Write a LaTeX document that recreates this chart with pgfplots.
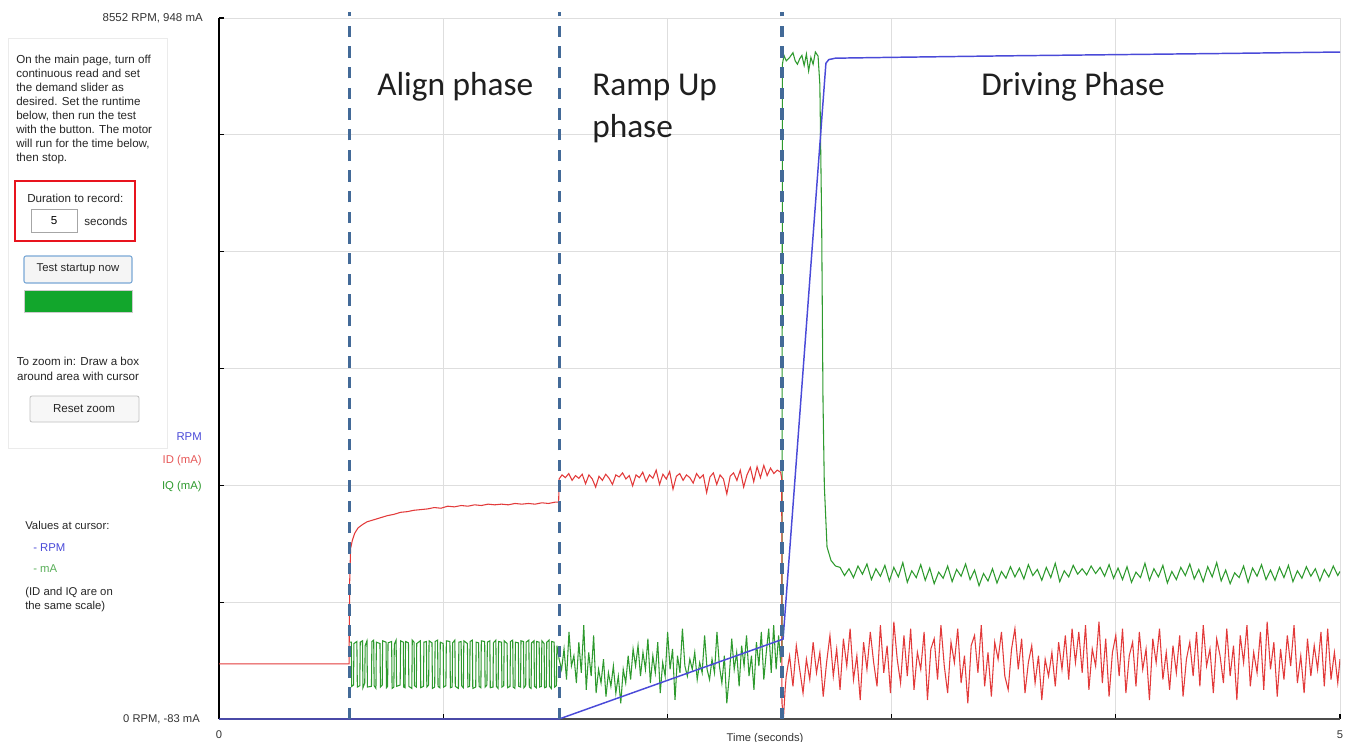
\documentclass[border=0pt]{standalone}
\usepackage{fontspec}
\setmainfont{Liberation Sans}
\newfontfamily\calib{Carlito}
\usepackage{pgfplots}
\pgfplotsset{compat=1.18}
\definecolor{cRPM}{HTML}{4A4AD8}
\definecolor{cID}{HTML}{E23A3A}
\definecolor{cIQ}{HTML}{2E9A2E}
\definecolor{cDash}{HTML}{436A98}
\definecolor{cGrid}{HTML}{DEDEDE}
\definecolor{cBar}{HTML}{12A62C}
\definecolor{cBtn}{HTML}{7AA8D6}
\begin{document}
\begin{tikzpicture}
\begin{scope}[x=0.75pt,y=-0.75pt]
\useasboundingbox (0,0) rectangle (1353,742);
% side panel
\draw[draw=black!8, fill=white, line width=0.6pt] (8,38) rectangle (167,448);
\node[anchor=north west, align=left, font=\fontsize{8.7}{10.45}\selectfont, text=black!85, inner sep=0pt] at (16,55)
 {On the main page, turn off\\continuous read and set\\the demand slider as\\desired. Set the runtime\\below, then run the test\\with the button. The motor\\will run for the time below,\\then stop.};
\draw[draw={rgb,255:red,232;green,20;blue,30}, line width=2pt] (15,181) rectangle (135,241);
\node[anchor=west, font=\fontsize{8.7}{10}\selectfont, text=black!85, inner sep=0pt] at (27,198) {Duration to record:};
\draw[draw=black!35, fill=white, line width=0.6pt] (31,209) rectangle (77,232);
\node[font=\fontsize{8.7}{10}\selectfont, inner sep=0pt] at (54,221) {5};
\node[anchor=west, font=\fontsize{8.7}{10}\selectfont, text=black!85, inner sep=0pt] at (84,221) {seconds};
\draw[draw=cBtn, fill=black!4, rounded corners=1.5pt, line width=0.8pt] (24,256) rectangle (132,283);
\node[font=\fontsize{8.5}{10}\selectfont, text=black!85, inner sep=0pt] at (78,269) {Test startup now};
\draw[draw=black!20, fill=cBar, line width=0.5pt] (24,290) rectangle (132,312);
\node[align=center, font=\fontsize{8.7}{11}\selectfont, text=black!85, inner sep=0pt] at (78,369) {To zoom in: Draw a box\\around area with cursor};
\draw[draw=black!25, fill=black!3, rounded corners=1.5pt, line width=0.6pt] (30,396) rectangle (139,422);
\node[font=\fontsize{8.7}{10}\selectfont, text=black!85, inner sep=0pt] at (84,409) {Reset zoom};
% series labels
\node[anchor=east, font=\fontsize{8.5}{10}\selectfont, text=cRPM, inner sep=0pt] at (202,437) {RPM};
\node[anchor=east, font=\fontsize{8.5}{10}\selectfont, text=cID!85, inner sep=0pt] at (202,461) {ID (mA)};
\node[anchor=east, font=\fontsize{8.5}{10}\selectfont, text=cIQ, inner sep=0pt] at (202,487) {IQ (mA)};
% cursor values
\node[anchor=west, font=\fontsize{8.5}{10}\selectfont, text=black!85, inner sep=0pt] at (25,525) {Values at cursor:};
\node[anchor=west, font=\fontsize{8.5}{10}\selectfont, text=cRPM, inner sep=0pt] at (33,548) {- RPM};
\node[anchor=west, font=\fontsize{8.5}{10}\selectfont, text=cIQ!80, inner sep=0pt] at (33,569) {- mA};
\node[anchor=north west, align=left, font=\fontsize{8.5}{10.4}\selectfont, text=black!85, inner sep=0pt] at (25,587) {(ID and IQ are on\\the same scale)};
% axis end labels
\node[anchor=east, font=\fontsize{8.6}{10}\selectfont, text=black!80, inner sep=0pt] at (203,18) {8552 RPM, 948 mA};
\node[anchor=east, font=\fontsize{8.4}{10}\selectfont, text=black!80, inner sep=0pt] at (200,719) {0 RPM, -83 mA};
\node[font=\fontsize{8.4}{10}\selectfont, text=black!80, inner sep=0pt] at (219,735) {0};
\node[font=\fontsize{8.4}{10}\selectfont, text=black!80, inner sep=0pt] at (1340,735) {5};
\node[font=\fontsize{8.4}{10}\selectfont, text=black!80, inner sep=0pt] at (765,739) {Time (seconds)};
\end{scope}

\begin{axis}[
  at={(164.25pt,-539.25pt)}, anchor=south west,
  scale only axis, width=840.75pt, height=525.75pt,
  xmin=0, xmax=5, ymin=-83, ymax=948,
  xtick={0,1,2,3,4,5}, ytick={-83,88.833,260.667,432.5,604.333,776.167,948},
  xticklabels={}, yticklabels={},
  axis x line*=bottom, axis y line*=left,
  x axis line style={color=black!70, line width=0.8pt},
  y axis line style={color=black, line width=1.1pt},
  tick align=inside, major tick length=4pt,
  tick style={black, line width=0.9pt},
  grid=major, grid style={cGrid, line width=0.7pt},
]
% IQ (green)
\addplot[cIQ, line width=0.8pt] coordinates {
(0.582,30) (0.590,30) (0.592,-35) (0.600,-33) (0.602,28) (0.615,31) (0.617,-36) (0.628,-34) (0.630,30) (0.640,32) (0.642,-37) (0.650,-30) (0.652,25) (0.660,32) (0.662,-36) (0.680,-35) (0.682,31) (0.690,33) (0.692,-34) (0.700,-38) (0.702,30) (0.718,28) (0.720,-36) (0.728,-33) (0.730,32) (0.745,30) (0.747,-37) (0.752,-35) (0.754,29) (0.770,31) (0.772,-38) (0.780,-36) (0.782,27) (0.790,33) (0.792,-35) (0.808,-33) (0.810,32) (0.822,30) (0.824,-36) (0.830,-37) (0.832,31) (0.845,29) (0.847,-35) (0.860,-38) (0.862,33) (0.870,30) (0.872,-34) (0.880,-36) (0.882,28) (0.898,32) (0.900,-37) (0.912,-35) (0.914,30) (0.925,31) (0.927,-36) (0.935,-33) (0.937,32) (0.950,29) (0.952,-38) (0.962,-36) (0.964,31) (0.975,33) (0.977,-35) (0.985,-37) (0.987,30) (1.000,28) (1.002,-36) (1.012,-34) (1.014,32) (1.030,31) (1.032,-37) (1.040,-36) (1.042,29) (1.052,33) (1.054,-35) (1.068,-38) (1.070,30) (1.080,31) (1.082,-34) (1.090,-37) (1.092,32) (1.108,28) (1.110,-36) (1.118,-35) (1.120,31) (1.130,33) (1.132,-38) (1.145,-36) (1.147,30) (1.158,29) (1.160,-35) (1.168,-37) (1.170,32) (1.185,31) (1.187,-36) (1.195,-33) (1.197,30) (1.208,32) (1.210,-37) (1.222,-36) (1.224,29) (1.235,33) (1.237,-35) (1.245,-38) (1.247,31) (1.260,30) (1.262,-36) (1.270,-34) (1.272,32) (1.285,28) (1.287,-37) (1.298,-35) (1.300,31) (1.310,33) (1.312,-36) (1.320,-38) (1.322,30) (1.335,29) (1.337,-35) (1.345,-36) (1.347,32) (1.358,31) (1.360,-37) (1.368,-34) (1.370,30) (1.382,33) (1.384,-36) (1.392,-38) (1.394,29) (1.405,32) (1.407,-35) (1.415,-37) (1.417,31) (1.428,30) (1.430,-36) (1.438,-35) (1.440,32) (1.450,28) (1.452,-37) (1.460,-36) (1.462,30) (1.472,33) (1.474,-35) (1.482,-38) (1.484,31) (1.495,30) (1.497,-36) (1.505,-34) (1.507,25) (1.515,10)
(1.517,5) (1.528,-10) (1.539,20) (1.550,-25) (1.561,45) (1.572,-5) (1.583,10) (1.594,-30) (1.605,30) (1.616,-15) (1.627,55) (1.638,-40) (1.649,15) (1.660,-20) (1.671,40) (1.682,-45) (1.693,-10) (1.704,-30) (1.715,5) (1.726,-50) (1.737,-15) (1.748,-35) (1.759,-5) (1.770,-45) (1.781,-20) (1.792,-60) (1.803,-10) (1.814,-30) (1.825,10) (1.836,-25) (1.847,20) (1.858,-5) (1.869,25) (1.880,-20) (1.891,15) (1.902,-10) (1.913,35) (1.924,-30) (1.935,10) (1.946,-15) (1.957,30) (1.968,-45) (1.979,0) (1.990,-20) (2.001,45) (2.012,-10) (2.023,20) (2.034,-55) (2.045,10) (2.056,-15) (2.067,50) (2.078,-5) (2.089,-20) (2.100,5) (2.111,-10) (2.122,15) (2.133,-25) (2.144,0) (2.155,-15) (2.166,40) (2.177,-10) (2.188,-25) (2.199,5) (2.210,-15) (2.221,45) (2.232,-5) (2.243,-30) (2.254,10) (2.265,-60) (2.276,-20) (2.287,35) (2.298,-10) (2.309,15) (2.320,-35) (2.331,25) (2.342,-5) (2.353,40) (2.364,-20) (2.375,10) (2.386,-40) (2.397,30) (2.408,-5) (2.419,45) (2.430,-25) (2.441,15) (2.452,50) (2.463,-15) (2.474,55) (2.485,-10) (2.496,40) (2.505,0) (2.511,20)
(2.513,880) (2.520,893) (2.530,885) (2.545,890) (2.560,897) (2.570,885) (2.580,880) (2.590,888) (2.600,893) (2.610,878) (2.620,895) (2.630,870) (2.640,890) (2.650,880) (2.660,898) (2.672,892) (2.680,850) (2.688,650) (2.694,386) (2.700,260) (2.712,170) (2.730,150) (2.750,142) (2.770,140)
(2.790,128) (2.810,138) (2.830,125) (2.850,142) (2.870,130) (2.890,145) (2.910,122) (2.930,138) (2.950,127) (2.970,143) (2.990,120) (3.010,140) (3.030,126) (3.050,147) (3.070,118) (3.090,135) (3.110,125) (3.130,144) (3.150,121) (3.170,139) (3.190,116) (3.210,133) (3.230,124) (3.250,142) (3.270,119) (3.290,137) (3.310,127) (3.330,145) (3.350,122) (3.370,136) (3.390,113) (3.410,131) (3.430,120) (3.450,138) (3.470,117) (3.490,134) (3.510,124) (3.530,141) (3.550,126) (3.570,139) (3.590,123) (3.610,144) (3.630,128) (3.650,137) (3.670,121) (3.690,140) (3.710,125) (3.730,146) (3.750,119) (3.770,135) (3.790,126) (3.810,143) (3.830,130) (3.850,138) (3.870,129) (3.890,142) (3.910,131) (3.930,140) (3.950,127) (3.970,144) (3.990,124) (4.010,139) (4.030,122) (4.050,141) (4.070,118) (4.090,133) (4.110,125) (4.130,146) (4.150,121) (4.170,138) (4.190,126) (4.210,143) (4.230,117) (4.250,134) (4.270,122) (4.290,140) (4.310,128) (4.330,145) (4.350,123) (4.370,137) (4.390,119) (4.410,141) (4.430,126) (4.450,147) (4.470,120) (4.490,136) (4.510,116) (4.530,132) (4.550,125) (4.570,142) (4.590,118) (4.610,139) (4.630,127) (4.650,144) (4.670,122) (4.690,136) (4.710,121) (4.730,140) (4.750,125) (4.770,143) (4.790,119) (4.810,135) (4.830,124) (4.850,141) (4.870,127) (4.890,138) (4.910,120) (4.930,137) (4.950,126) (4.970,142) (4.990,128) (5.000,134)
};
% ID (red)
\addplot[cID, line width=0.8pt] coordinates {
(0,-2) (0.580,-2) (0.583,120) (0.587,168) (0.595,180) (0.605,190) (0.620,198) (0.640,203) (0.660,207) (0.690,210) (0.720,213) (0.750,216) (0.780,218) (0.810,221) (0.840,222) (0.870,224) (0.900,225) (0.930,226) (0.960,228) (0.990,227) (1.020,230) (1.050,229) (1.080,231) (1.110,230) (1.140,232) (1.170,231) (1.200,233) (1.230,232) (1.260,233) (1.290,232) (1.320,234) (1.350,233) (1.380,234) (1.410,233) (1.440,235) (1.470,234) (1.500,236) (1.515,236)
(1.517,270) (1.530,276) (1.545,272) (1.560,278) (1.575,268) (1.590,275) (1.605,271) (1.620,277) (1.635,263) (1.650,276) (1.665,270) (1.680,258) (1.695,274) (1.710,268) (1.725,277) (1.740,271) (1.755,262) (1.770,276) (1.785,273) (1.800,279) (1.815,270) (1.830,275) (1.845,260) (1.860,276) (1.875,272) (1.890,280) (1.905,266) (1.920,276) (1.935,271) (1.950,283) (1.965,262) (1.980,277) (1.995,270) (2.010,281) (2.025,255) (2.040,274) (2.055,278) (2.070,268) (2.085,276) (2.100,272) (2.115,264) (2.130,278) (2.145,271) (2.160,276) (2.175,250) (2.190,273) (2.205,279) (2.220,262) (2.235,276) (2.250,270) (2.265,248) (2.280,274) (2.295,279) (2.310,268) (2.325,283) (2.340,258) (2.355,276) (2.370,287) (2.385,266) (2.400,288) (2.415,272) (2.430,290) (2.445,275) (2.460,286) (2.475,278) (2.490,283) (2.505,280) (2.510,270) (2.511,-60) (2.518,-80) (2.525,-40)
(2.530,-20) (2.545,10) (2.560,-35) (2.575,25) (2.590,-10) (2.605,-45) (2.620,5) (2.635,-25) (2.650,30) (2.665,-15) (2.680,15) (2.695,-50) (2.710,0) (2.725,40) (2.740,-20) (2.755,20) (2.770,-40) (2.785,35) (2.800,-5) (2.815,50) (2.830,-25) (2.845,10) (2.860,-55) (2.875,30) (2.890,-10) (2.905,45) (2.920,0) (2.935,-35) (2.950,55) (2.965,-15) (2.980,25) (2.995,-45) (3.010,60) (3.025,5) (3.040,-30) (3.055,40) (3.070,-20) (3.085,50) (3.100,-40) (3.115,15) (3.130,-10) (3.145,45) (3.160,-55) (3.175,20) (3.190,35) (3.205,-25) (3.220,55) (3.235,-5) (3.250,-45) (3.265,30) (3.280,0) (3.295,50) (3.310,-30) (3.325,10) (3.340,-60) (3.355,25) (3.370,40) (3.385,-15) (3.400,55) (3.415,-35) (3.430,15) (3.445,-50) (3.460,30) (3.475,5) (3.490,45) (3.505,-20) (3.520,-40) (3.535,20) (3.550,50) (3.565,-10) (3.580,35) (3.595,-45) (3.610,0) (3.625,25) (3.640,-30) (3.655,10) (3.670,-55) (3.685,5) (3.700,-20) (3.715,15) (3.730,-35) (3.745,30) (3.760,-10) (3.775,40) (3.790,-25) (3.805,50) (3.820,0) (3.835,45) (3.850,-15) (3.865,55) (3.880,-40) (3.895,20) (3.910,-5) (3.925,60) (3.940,-30) (3.955,35) (3.970,-50) (3.985,15) (4.000,40) (4.015,-20) (4.030,50) (4.045,-45) (4.060,10) (4.075,30) (4.090,-35) (4.105,45) (4.120,-10) (4.135,20) (4.150,-55) (4.165,35) (4.180,0) (4.195,50) (4.210,-25) (4.225,15) (4.240,-40) (4.255,25) (4.270,-15) (4.285,40) (4.300,-50) (4.315,5) (4.330,30) (4.345,-20) (4.360,45) (4.375,-35) (4.390,55) (4.405,-5) (4.420,20) (4.435,-45) (4.450,35) (4.465,10) (4.480,-30) (4.495,50) (4.510,-20) (4.525,25) (4.540,-55) (4.555,40) (4.570,0) (4.585,55) (4.600,-35) (4.615,15) (4.630,-15) (4.645,45) (4.660,-40) (4.675,60) (4.690,-10) (4.705,30) (4.720,-50) (4.735,20) (4.750,-25) (4.765,40) (4.780,-5) (4.795,55) (4.810,-30) (4.825,10) (4.840,-45) (4.855,35) (4.870,-20) (4.885,25) (4.900,-10) (4.915,45) (4.930,-35) (4.945,50) (4.960,-25) (4.975,15) (4.990,-30) (5.000,5)
};
\end{axis}

\begin{axis}[
  at={(164.25pt,-539.25pt)}, anchor=south west,
  scale only axis, width=840.75pt, height=525.75pt,
  xmin=0, xmax=5, ymin=0, ymax=8552,
  hide axis, clip=false,
]
% RPM (blue)
\addplot[cRPM, line width=1.1pt] coordinates {
(0,0) (1.517,0) (2.511,970) (2.516,975) (2.707,8000) (2.720,8045) (2.750,8062) (3.000,8072) (3.500,8090) (4.000,8105) (4.500,8120) (5.000,8137)
};
% phase separators
\addplot[cDash, line width=2.3pt, dash pattern=on 8.5pt off 7pt] coordinates {(0.580,0) (0.580,8625)};
\addplot[cDash, line width=2.3pt, dash pattern=on 8.5pt off 7pt] coordinates {(1.517,0) (1.517,8625)};
\addplot[cDash, line width=2.3pt, dash pattern=on 8.5pt off 7pt] coordinates {(2.511,0) (2.511,8625)};
\end{axis}

\begin{scope}[x=0.75pt,y=-0.75pt]
\node[anchor=west, font=\calib\fontsize{25}{30}\selectfont, text=black!88, inner sep=0pt] at (377,87) {Align phase};
\node[anchor=west, font=\calib\fontsize{25}{30}\selectfont, text=black!88, inner sep=0pt] at (592,87) {Ramp Up};
\node[anchor=west, font=\calib\fontsize{25}{30}\selectfont, text=black!88, inner sep=0pt] at (592,129) {phase};
\node[anchor=west, font=\calib\fontsize{25}{30}\selectfont, text=black!88, inner sep=0pt] at (981,87) {Driving Phase};
\end{scope}
\end{tikzpicture}
\end{document}
